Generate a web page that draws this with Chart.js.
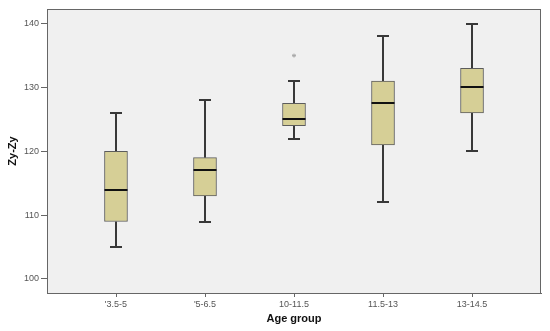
<!DOCTYPE html>
<html>
<head>
<meta charset="utf-8">
<script src="https://cdn.jsdelivr.net/npm/chart.js@4"></script>
<style>
  html, body { margin:0; padding:0; background:#fff; }
  #wrap { width:550px; height:331px; }
</style>
</head>
<body>
<div id="wrap"><canvas id="grafico"></canvas></div>
<script>
// categorias e valores do boxplot
const categorias = ["'3.5-5", "'5-6.5", "10-11.5", "11.5-13", "13-14.5"];
const minimos  = [105, 109, 122, 112, 120];
const q1       = [109, 113, 124, 121, 126];
const medianas = [114, 117, 125, 127.5, 130];
const q3       = [120, 119, 127.5, 131, 133];
const maximos  = [126, 128, 131, 138, 140];
const outliers = [{ grupo: 3, valor: 135 }];
const yTicks   = [100, 110, 120, 130, 140];

const fonte = "'Liberation Sans', Arial, sans-serif";

// fundo cinza + borda da área do gráfico
const fundoPlugin = {
    id: 'fundo',
    beforeDatasetsDraw(chart) {
        const { ctx, chartArea: a } = chart;
        ctx.save();
        ctx.fillStyle = '#f0f0f0';
        ctx.fillRect(a.left, a.top, a.right - a.left, a.bottom - a.top);
        ctx.restore();
    },
    afterDraw(chart) {
        const { ctx, chartArea: a, scales: { x } } = chart;
        ctx.save();
        ctx.strokeStyle = '#666';
        ctx.lineWidth = 1;
        ctx.strokeRect(a.left + 0.5, a.top + 0.5, a.right - a.left - 1, a.bottom - a.top);
        // marcas do eixo x
        ctx.beginPath();
        categorias.forEach((c, i) => {
            const px = Math.round(x.getPixelForValue(i + 1)) + 0.5;
            ctx.moveTo(px, a.bottom);
            ctx.lineTo(px, a.bottom + 4);
        });
        ctx.stroke();
        ctx.restore();
    }
};

// bigodes e mediana desenhados com as escalas do gráfico
const bigodesPlugin = {
    id: 'bigodes',
    beforeDatasetsDraw(chart) {
        const { ctx, scales: { x, y } } = chart;
        ctx.save();
        ctx.strokeStyle = '#383838';
        ctx.lineWidth = 2;
        categorias.forEach((c, i) => {
            const px = Math.round(x.getPixelForValue(i + 1));
            ctx.beginPath();
            ctx.moveTo(px, y.getPixelForValue(maximos[i]));
            ctx.lineTo(px, y.getPixelForValue(q3[i]));
            ctx.moveTo(px, y.getPixelForValue(q1[i]));
            ctx.lineTo(px, y.getPixelForValue(minimos[i]));
            ctx.stroke();
            ctx.beginPath();
            [maximos[i], minimos[i]].forEach(v => {
                const py = Math.round(y.getPixelForValue(v));
                ctx.moveTo(px - 6, py);
                ctx.lineTo(px + 6, py);
            });
            ctx.stroke();
        });
        ctx.restore();
    },
    afterDatasetsDraw(chart) {
        const { ctx, scales: { x, y } } = chart;
        ctx.save();
        ctx.strokeStyle = '#111';
        ctx.lineWidth = 2;
        categorias.forEach((c, i) => {
            const px = x.getPixelForValue(i + 1);
            const py = Math.round(y.getPixelForValue(medianas[i]));
            ctx.beginPath();
            ctx.moveTo(px - 11.5, py);
            ctx.lineTo(px + 11.5, py);
            ctx.stroke();
        });
        ctx.restore();
    }
};

const ctx = document.getElementById("grafico").getContext("2d");
const grafico = new Chart(ctx, {
    type: 'bar',
    data: {
        datasets: [
            {
                type: 'bar',
                data: categorias.map((c, i) => ({ x: i + 1, y: [q1[i], q3[i]] })),
                backgroundColor: '#d6cf96',
                borderColor: '#5c5c5c',
                borderWidth: 1,
                borderSkipped: false,
                barThickness: 23
            },
            {
                type: 'scatter',
                data: outliers.map(o => ({ x: o.grupo, y: o.valor })),
                pointStyle: 'star',
                radius: 2,
                borderColor: '#aaa',
                borderWidth: 1
            }
        ]
    },
    plugins: [fundoPlugin, bigodesPlugin],
    options: {
        responsive: true,
        maintainAspectRatio: false,
        animation: false,
        layout: { padding: { top: 9, right: 9, left: 6, bottom: 0 } },
        plugins: { legend: { display: false }, tooltip: { enabled: false } },
        scales: {
            x: {
                type: 'linear',
                offset: false,
                min: 0.225,
                max: 5.775,
                afterBuildTicks: s => { s.ticks = categorias.map((c, i) => ({ value: i + 1 })); },
                afterFit: s => { s.height = 38; },
                ticks: {
                    callback: v => categorias[v - 1],
                    font: { family: fonte, size: 9 },
                    color: '#555',
                    padding: 6,
                    maxRotation: 0
                },
                grid: { drawOnChartArea: false, drawTicks: false, offset: false, tickLength: 4, color: '#666' },
                border: { color: '#666' },
                title: {
                    display: true,
                    text: 'Age group',
                    font: { family: fonte, size: 11, weight: 'bold' },
                    color: '#111',
                    padding: { top: 2, bottom: 5 }
                }
            },
            y: {
                min: 97.8,
                max: 142.3,
                afterBuildTicks: s => { s.ticks = yTicks.map(v => ({ value: v })); },
                afterFit: s => { s.width = 41; },
                ticks: {
                    font: { family: fonte, size: 9 },
                    color: '#555',
                    padding: 2
                },
                grid: { drawOnChartArea: false, tickLength: 6, color: '#666' },
                border: { color: '#666' },
                title: {
                    display: true,
                    text: 'Zy-Zy',
                    font: { family: fonte, size: 11, weight: 'bold' },
                    color: '#111',
                    padding: { top: 0, bottom: 2 }
                }
            }
        }
    }
});
</script>
</body>
</html>
